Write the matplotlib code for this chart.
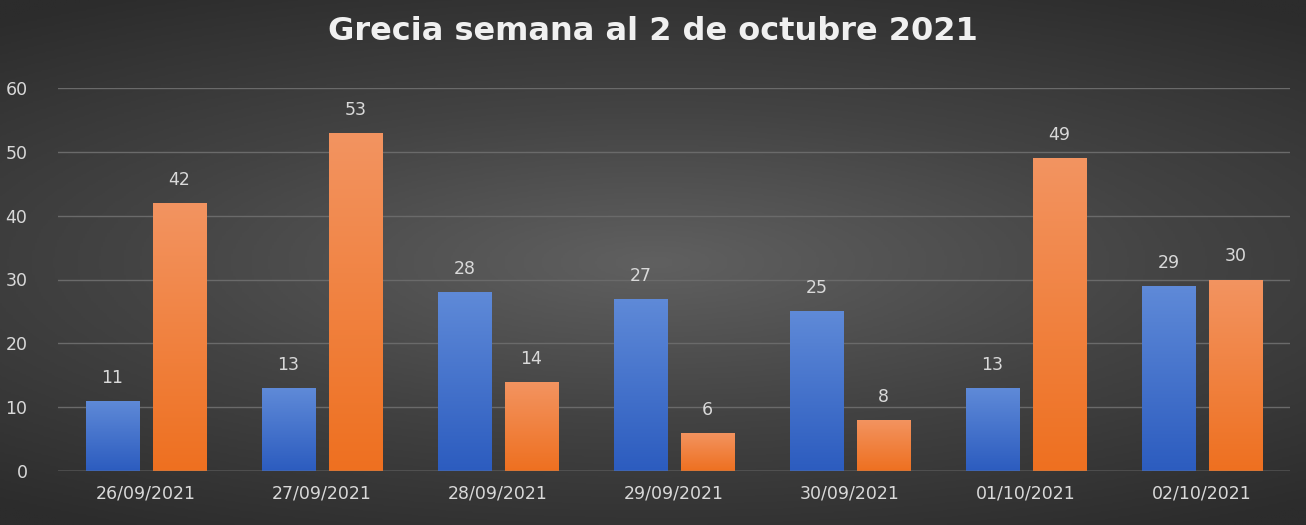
import numpy as np
import matplotlib
matplotlib.use("Agg")
import matplotlib.pyplot as plt
from matplotlib.colors import LinearSegmentedColormap

dates = ["26/09/2021", "27/09/2021", "28/09/2021", "29/09/2021",
         "30/09/2021", "01/10/2021", "02/10/2021"]
blue_vals = [11, 13, 28, 27, 25, 13, 29]
orange_vals = [42, 53, 14, 6, 8, 49, 30]

fig = plt.figure(figsize=(13.06, 5.25), dpi=100)

# radial-ish background
bg = fig.add_axes([0, 0, 1, 1], zorder=0)
yy, xx = np.mgrid[-1:1:300j, -1:1:600j]
r = np.sqrt((xx * 0.8) ** 2 + (yy * 1.1) ** 2)
bg_cmap = LinearSegmentedColormap.from_list("bg", ["#606060", "#434343", "#2c2c2c"])
bg.imshow(r, cmap=bg_cmap, aspect="auto", extent=[0, 1, 0, 1], vmin=0, vmax=1.3)
bg.set_axis_off()

ax = fig.add_axes([58 / 1306, 1 - 471 / 525, (1290 - 58) / 1306, (471 - 88) / 525], zorder=1)
ax.patch.set_alpha(0)
x = np.arange(len(dates))
w = 0.305
off = 0.19

blue_cmap = LinearSegmentedColormap.from_list("b", ["#2c5cbf", "#5f8ad8"])
orange_cmap = LinearSegmentedColormap.from_list("o", ["#ee7020", "#f39461"])
grad = np.linspace(0, 1, 256).reshape(-1, 1)

for vals, sign, cmap in ((blue_vals, -1, blue_cmap), (orange_vals, 1, orange_cmap)):
    bars = ax.bar(x + sign * off, vals, w, color="none", zorder=3)
    for b, v in zip(bars, vals):
        x0 = b.get_x()
        im = ax.imshow(grad, cmap=cmap, origin="lower", aspect="auto",
                       extent=[x0, x0 + w, 0, v], zorder=3)
        im.set_clip_path(b)
        ax.text(x0 + w / 2, v + 2.2, str(v), ha="center", va="bottom",
                color="#d9d9d9", fontsize=12.5)

ax.set_xlim(-0.5, 6.5)
ax.set_ylim(0, 60)
ax.set_yticks(range(0, 61, 10))
ax.set_xticks(x)
ax.set_xticklabels(dates)
ax.grid(axis="y", color="#6a6a6a", linewidth=1, zorder=0)
ax.tick_params(colors="#d9d9d9", labelsize=12.5, length=0, pad=10)
ax.tick_params(axis="y", pad=22)
for s in ax.spines.values():
    s.set_visible(False)
ax.axhline(0, color="#8a8a8a", linewidth=1, zorder=4)

fig.text(0.5, 0.94, "Grecia semana al 2 de octubre 2021", ha="center", va="center",
         color="#f0f0f0", fontsize=23, fontweight="bold", fontfamily="DejaVu Sans")

fig.savefig("out.png", dpi=100)
